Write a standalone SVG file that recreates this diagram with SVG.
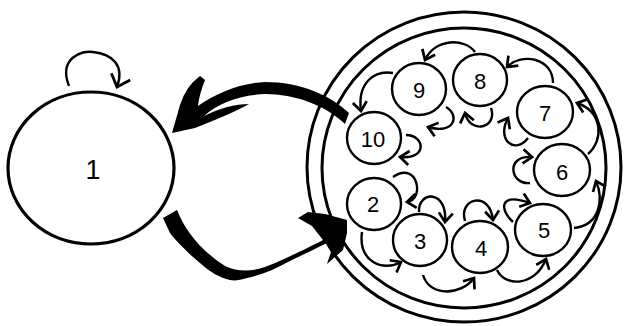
<svg xmlns="http://www.w3.org/2000/svg" width="626" height="326" viewBox="0 0 626 326">
<style>
.ring{fill:none;stroke:#000;stroke-width:3}
.node{fill:#fff;stroke:#000;stroke-width:2.4}
.big{fill:#fff;stroke:#000;stroke-width:3.2}
.lbl{font-family:"Liberation Sans",Arial,sans-serif;font-size:22px;text-anchor:middle;fill:#000}
.lbl1{font-family:"Liberation Sans",Arial,sans-serif;font-size:27px;text-anchor:middle;fill:#000}
.arc{fill:none;stroke:#000;stroke-width:2.4;marker-end:url(#ah)}
.fat{fill:#000;stroke:none}
</style>
<defs>
<marker id="ah" markerUnits="userSpaceOnUse" orient="auto" refX="0" refY="0" markerWidth="24" markerHeight="24" viewBox="-12 -12 24 24" overflow="visible">
<path d="M-9,-7 L0,0 L-9,7" fill="none" stroke="#000" stroke-width="2.7" stroke-linejoin="miter"/>
</marker>
<marker id="ahL" markerUnits="userSpaceOnUse" orient="auto" refX="0" refY="0" markerWidth="30" markerHeight="30" viewBox="-15 -15 30 30" overflow="visible">
<path d="M-11,-10 L0,0 L-11,10" fill="none" stroke="#000" stroke-width="2.8"/>
</marker>
</defs>

<g id="cluster">
<ellipse class="ring" cx="464" cy="167" rx="157" ry="155"/>
<ellipse class="ring" cx="464" cy="168" rx="142" ry="140"/>
</g>

<g id="connectors">
<path class="arc" style="marker-end:url(#ahL)" d="M69,86 C58,58 82,50 93,52 C112,54 125,65 117,87"/>
<path class="arc" d="M393,73 C375,70 357,82 361,111"/>
<path class="arc" d="M475,52 C465,38 435,38 425,60"/>
<path class="arc" d="M553,83 C553,58 522,52 507,67"/>
<path class="arc" d="M588,154 C604,140 603,112 577,103"/>
<path class="arc" d="M574,228 C600,225 604,200 596,181"/>
<path class="arc" d="M497,270 C505,287 535,287 546,259"/>
<path class="arc" d="M423,275 C430,298 462,295 474,278"/>
<path class="arc" d="M362,232 C358,262 383,272 401,262"/>
<path class="arc" d="M406,135 C425,135 428,160 400,157"/>
<path class="arc" d="M446,107 C460,115 455,135 428,127"/>
<path class="arc" d="M491,108 C498,128 470,135 465,113"/>
<path class="arc" d="M528,138 C515,155 496,140 508,118"/>
<path class="arc" d="M530,183 C510,185 505,155 532,157"/>
<path class="arc" d="M513,222 C500,210 498,192 530,203"/>
<path class="arc" d="M465,221 C458,198 490,190 493,220"/>
<path class="arc" d="M419,212 C418,190 448,190 445,222"/>
<path class="arc" d="M393,177 C418,160 425,200 407,202"/>
<path class="fat" d="M172,133 L180,105 Q186,86 200,76 L205,80 Q199,95 198,106 C215,94 240,83 265,82 C300,82 330,95 349,113 L345,124 C325,105 295,94 265,94 C240,95 218,103 204,116 C220,108 235,104 249,104 C235,112 215,120 195,128 Z"/>
<path class="fat" d="M163,218 L177,210 C185,230 200,250 225,266 C240,273 255,272 275,263 C295,254 312,246 323,240 L312,226 L298,218 L308,212 L325,214 L347,220 L347,233 L343,250 L327,264 L331,252 L327,243 C315,249 298,257 288,262 C275,269 262,275 247,278 C240,280 235,281 230,280 C220,278 210,272 200,263 C190,255 175,240 170,233 Z"/>
</g>

<g id="n1"><ellipse class="big" cx="91" cy="168" rx="83" ry="76"/><text class="lbl1" x="93" y="179">1</text></g>
<g id="n2"><ellipse class="node" cx="374" cy="204" rx="27" ry="26"/><text class="lbl" x="373" y="212">2</text></g>
<g id="n3"><ellipse class="node" cx="420" cy="240" rx="27" ry="26"/><text class="lbl" x="420" y="249">3</text></g>
<g id="n4"><ellipse class="node" cx="480" cy="247" rx="28" ry="26"/><text class="lbl" x="481" y="256">4</text></g>
<g id="n5"><ellipse class="node" cx="543" cy="230" rx="28" ry="26"/><text class="lbl" x="544" y="238">5</text></g>
<g id="n6"><ellipse class="node" cx="562" cy="170" rx="28" ry="26"/><text class="lbl" x="562" y="180">6</text></g>
<g id="n7"><ellipse class="node" cx="545" cy="112" rx="28" ry="26"/><text class="lbl" x="545" y="121">7</text></g>
<g id="n8"><ellipse class="node" cx="480" cy="80" rx="27" ry="26"/><text class="lbl" x="480" y="89">8</text></g>
<g id="n9"><ellipse class="node" cx="419" cy="89" rx="27" ry="26"/><text class="lbl" x="419" y="98">9</text></g>
<g id="n10"><ellipse class="node" cx="374" cy="138" rx="27" ry="26"/><text class="lbl" x="373" y="147">10</text></g>
</svg>
